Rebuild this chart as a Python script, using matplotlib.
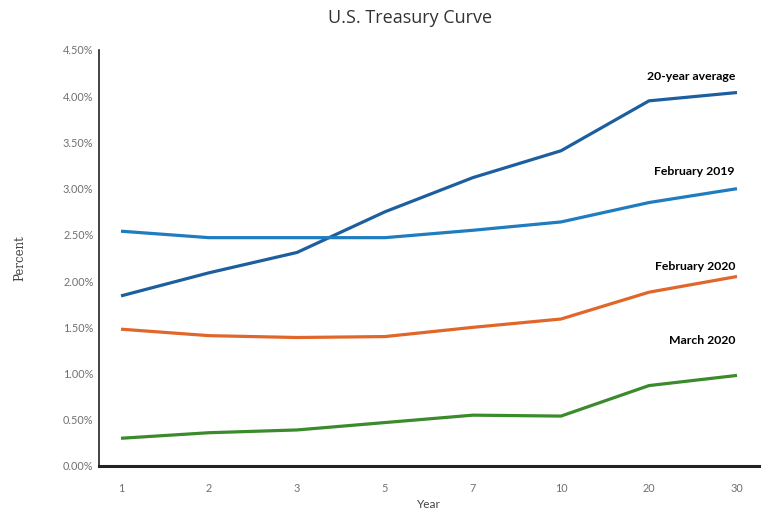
import matplotlib
matplotlib.use("Agg")
import matplotlib.pyplot as plt
from matplotlib.ticker import FuncFormatter

# ── Datos ───────────────────────────────────────────────────
maturities = ["1", "2", "3", "5", "7", "10", "20", "30"]
avg_20yr = [1.84, 2.09, 2.31, 2.75, 3.12, 3.41, 3.95, 4.04]
feb_2019 = [2.54, 2.47, 2.47, 2.47, 2.55, 2.64, 2.85, 3.00]
feb_2020 = [1.48, 1.41, 1.39, 1.40, 1.50, 1.59, 1.88, 2.05]
mar_2020 = [0.30, 0.36, 0.39, 0.47, 0.55, 0.54, 0.87, 0.98]

series = [
    ("20-year average", avg_20yr, "#1d5f9e", 76),
    ("February 2019", feb_2019, "#1f7cbf", 172),
    ("February 2020", feb_2020, "#e0662a", 266),
    ("March 2020", mar_2020, "#3b8a2c", 341),
]

plt.rcParams["font.family"] = ["Lato", "DejaVu Sans"]

fig = plt.figure(figsize=(7.64, 5.14), dpi=100)
ax = fig.add_axes([99 / 764, 1 - 466 / 514, 660 / 764, 416 / 514])

x = list(range(len(maturities)))
for name, vals, col, ypix in series:
    ax.plot(x, vals, color=col, lw=2.3, solid_capstyle="butt")
    fig.text(735 / 764, 1 - ypix / 514, name, ha="right", va="center",
             fontsize=8.8, fontweight="bold", color="black")

ax.set_xlim(-0.25, 7.25)
ax.set_ylim(0, 4.5)
ax.set_xticks(x)
ax.set_xticklabels(maturities)
ax.set_yticks([i * 0.5 for i in range(10)])
ax.yaxis.set_major_formatter(FuncFormatter(lambda v, p: f"{v:.2f}%"))
ax.tick_params(length=0, labelsize=7.8, colors="#707070", pad=12)
ax.tick_params(axis="y", pad=4)

for s in ("top", "right"):
    ax.spines[s].set_visible(False)
ax.spines["left"].set_color("#222222")
ax.spines["left"].set_linewidth(1.2)
ax.spines["bottom"].set_color("#222222")
ax.spines["bottom"].set_linewidth(2.2)

ax.set_xlabel("Year", fontsize=8.5, color="#444444", labelpad=4)
ax.set_ylabel("Percent", fontsize=8.5, color="#444444", family="DejaVu Serif", labelpad=26)
fig.text(410 / 764, 1 - 18 / 514, "U.S. Treasury Curve", ha="center", va="center",
         fontsize=13, color="#333333", family="Open Sans")

fig.savefig("out.png", dpi=100)
